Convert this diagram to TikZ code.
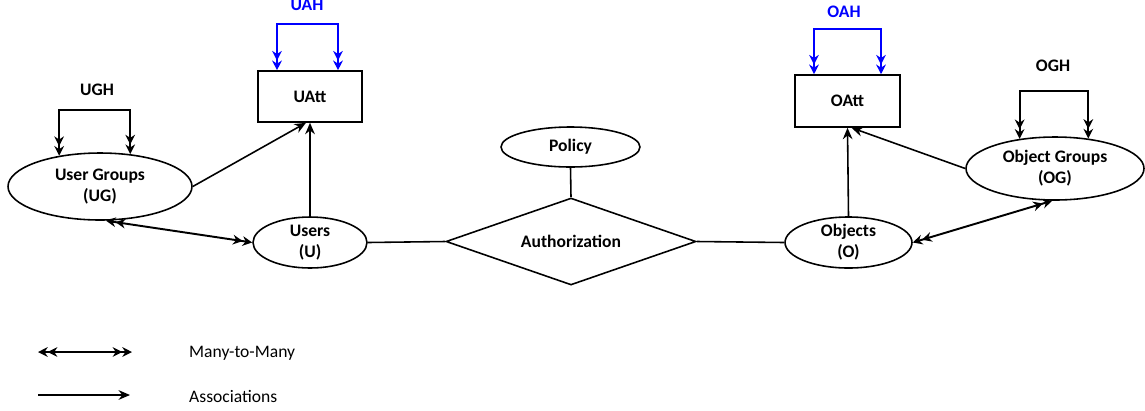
\documentclass[tikz,border=0pt]{standalone}
\usepackage{fontspec}
\setmainfont{Carlito}
\usetikzlibrary{shapes.geometric, arrows.meta, positioning, calc}

\begin{document}
\begin{tikzpicture}[
    x=0.02cm, y=-0.02cm,
    font=\fontsize{10}{12}\selectfont,
    entity/.style={ellipse, draw, line width=0.9pt, inner sep=0pt, align=center, font=\fontsize{10}{12}\selectfont\bfseries},
    attbox/.style={rectangle, draw, line width=0.9pt, minimum width=2.08cm, minimum height=1.02cm, font=\bfseries},
    relation/.style={diamond, draw, line width=0.9pt, inner sep=0pt, aspect=2.87, minimum width=5cm, minimum height=1.74cm, font=\bfseries},
    hlabel/.style={font=\bfseries},
    link/.style={line width=0.9pt},
    assoc/.style={-{Stealth[length=6.5pt,width=5.5pt]}, line width=0.9pt},
    manymany/.style={{Stealth[length=5.5pt,width=5.5pt]Stealth[length=5.5pt,width=5.5pt]}-{Stealth[length=5.5pt,width=5.5pt]Stealth[length=5.5pt,width=5.5pt]}, line width=1.1pt},
    hier/.style={{Stealth[length=5.5pt,width=5.5pt]Stealth[length=5.5pt,width=5.5pt]}-{Stealth[length=5.5pt,width=5.5pt]Stealth[length=5.5pt,width=5.5pt]}, line width=1.1pt}
]
\useasboundingbox (0,0) rectangle (1145,410);

% Entities
\node[entity, minimum width=3.68cm, minimum height=1.34cm] (ug) at (100,186.5) {User Groups\\(UG)};
\node[entity, minimum width=2.28cm, minimum height=1.02cm] (users) at (310,242.5) {Users\\(U)};
\node[attbox] (uatt) at (310,96.5) {UAtt};
\node[relation] (auth) at (571,241.5) {Authorization};
\node[entity, minimum width=2.78cm, minimum height=0.8cm] (policy) at (570.5,147) {Policy};
\node[entity, minimum width=2.54cm, minimum height=1.02cm] (objects) at (848.5,242.5) {Objects\\(O)};
\node[attbox, minimum width=2.1cm, minimum height=1.04cm] (oatt) at (847.5,101) {OAtt};
\node[entity, minimum width=3.56cm, minimum height=1.26cm] (og) at (1055,168.5) {Object Groups\\(OG)};

% Hierarchy labels
\node[hlabel] (ugh) at (97,90) {UGH};
\node[hlabel, blue] (uah) at (307,5) {UAH};
\node[hlabel, blue] (oah) at (844,12) {OAH};
\node[hlabel] (ogh) at (1053,66) {OGH};

% Hierarchy loops
\draw[hier] (ug.143) -- ++(0,-46) -| (ug.47);
\draw[hier, blue] ($(uatt.north)+(-33,0)$) -- ++(0,-46) -| ($(uatt.north)+(28,0)$);
\draw[hier, blue] ($(oatt.north)+(-33.5,0)$) -- ++(0,-45) -| ($(oatt.north)+(33.5,0)$);
\draw[hier] (og.140) -- ++(0,-48) -| (og.42);

% Associations and relations
\draw[assoc] (ug.east) -- ([xshift=-0.08cm]uatt.south);
\draw[assoc] (users.north) -- (uatt.south);
\draw[manymany] (ug.-80) -- (users.west);
\draw[link] (users.east) -- (auth.west);
\draw[link] (policy.south) -- (auth.north);
\draw[link] (auth.east) -- (objects.west);
\draw[assoc] (objects.north) -- (oatt.south);
\draw[assoc] (og.west) -- ([xshift=0.08cm]oatt.south);
\draw[manymany] (objects.east) -- (og.-95);

% Legend
\coordinate (mmstart) at (38,352);
\coordinate (mmend) at (132,352);
\draw[manymany] (mmstart) -- (mmend);
\node[anchor=west] (mmtext) at (183,353) {Many-to-Many};
\coordinate (asstart) at (38,395);
\coordinate (asend) at (130,395);
\draw[assoc] (asstart) -- (asend);
\node[anchor=west] (astext) at (183,396) {Associations};

\end{tikzpicture}
\end{document}
